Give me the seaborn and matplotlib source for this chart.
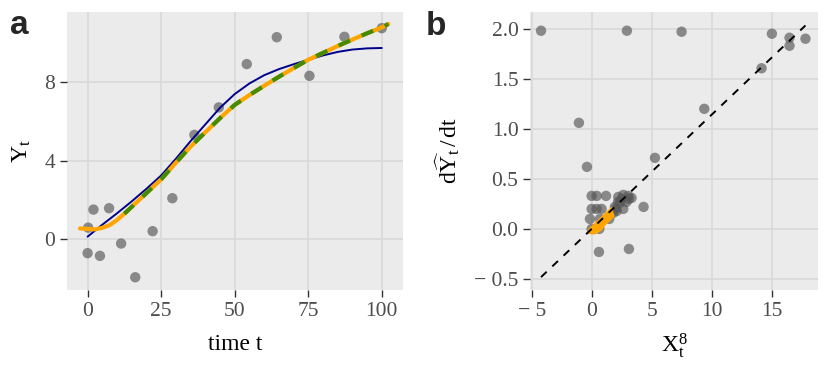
import matplotlib
matplotlib.use("Agg")
import matplotlib.pyplot as plt
import numpy as np
import pandas as pd
import seaborn as sns

# ---------------- Panel a data ----------------
obs_t = [0, 0.2, 2.0, 4.2, 7.3, 11.4, 16.2, 22.1, 28.8, 36.3, 44.6, 54.1, 64.3, 75.4, 87.3, 100.0]
obs_y = [-0.71, 0.59, 1.51, -0.85, 1.58, -0.22, -1.94, 0.41, 2.09, 5.32, 6.72, 8.93, 10.3, 8.33, 10.32, 10.76]

blue_t = [0, 5, 10, 15, 20, 25, 30, 35, 40, 45, 50, 55, 60, 65, 70, 75, 80, 85, 90, 95, 100]
blue_y = [0.13, 0.74, 1.32, 1.93, 2.57, 3.25, 4.10, 5.00, 5.85, 6.70, 7.40, 7.94, 8.36, 8.67, 8.92, 9.15, 9.37, 9.55, 9.67, 9.73, 9.75]

orange_t = [-2.6, 0, 2.5, 5, 7.5, 10, 12.5, 15, 20, 25, 30, 35, 40, 45, 50, 55, 60, 65, 70, 75, 80, 85, 90, 95, 100, 102.2]
orange_y = [0.55, 0.52, 0.50, 0.58, 0.72, 0.98, 1.30, 1.65, 2.35, 3.05, 3.90, 4.72, 5.45, 6.17, 6.85, 7.35, 7.82, 8.28, 8.72, 9.15, 9.50, 9.85, 10.18, 10.50, 10.80, 10.97]
green_start = 12.5

a_xticks = [0, 25, 50, 75, 100]
a_yticks = [0, 4, 8]

# ---------------- Panel b data ----------------
b_x = [-4.22, 2.94, 7.50, 15.03, 16.50, 16.50, 17.83, 14.17, 9.39, -1.06, -0.39, 5.28, 4.33, 0.61, 3.11,
       0.00, 0.42, 1.20, 0.00, 0.42, 0.83, -0.14, 0.69, 1.47, 0.00, 0.64, 2.22, 2.64, 3.05, 3.33,
       2.36, 1.94, 2.64, 1.80, 2.10, 2.50, 2.90, 3.10, 2.20, 2.00]
b_y = [1.98, 1.98, 1.97, 1.95, 1.91, 1.83, 1.90, 1.605, 1.20, 1.06, 0.62, 0.71, 0.22, -0.23, -0.20,
       0.33, 0.33, 0.33, 0.20, 0.20, 0.20, 0.10, 0.10, 0.10, 0.00, 0.00, 0.32, 0.34, 0.33, 0.31,
       0.26, 0.22, 0.20, 0.16, 0.18, 0.30, 0.27, 0.30, 0.27, 0.20]
fit_slope = 0.114

wedge_x = [-0.42, -0.14, 1.67, 1.86, 1.11, 0.83, 0.28]
wedge_y = [-0.043, 0.007, 0.216, 0.123, 0.04, -0.01, -0.05]

b_xticks = [-5, 0, 5, 10, 15]
b_xticklabels = ["\u2212 5", "0", "5", "10", "15"]
b_yticks = [-0.5, 0.0, 0.5, 1.0, 1.5, 2.0]
b_yticklabels = ["\u2212 0.5", "0.0", "0.5", "1.0", "1.5", "2.0"]

# ---------------- Style ----------------
sns.set_style("darkgrid", {"axes.facecolor": "#ebebeb", "grid.color": "#dbdbdb"})
plt.rcParams["font.family"] = ["Liberation Serif", "DejaVu Serif"]
plt.rcParams["mathtext.fontset"] = "custom"
plt.rcParams["mathtext.rm"] = "Liberation Serif"
plt.rcParams["mathtext.it"] = "Liberation Serif:italic"
plt.rcParams["mathtext.bf"] = "Liberation Serif:bold"

W, H = 830, 374
fig = plt.figure(figsize=(W / 100, H / 100), dpi=100)
fig.patch.set_facecolor("white")

def frac_axes(l, t, r, b):
    return fig.add_axes([l / W, 1 - b / H, (r - l) / W, (b - t) / H])

axa = frac_axes(66.7, 11.7, 402.7, 290)
axb = frac_axes(530, 11.7, 818.3, 290)

point_kw = dict(color="#555555", alpha=0.65, s=56, edgecolor="none", linewidth=0, zorder=3)

def style(ax):
    ax.set_facecolor("#ebebeb")
    ax.grid(True, color="#dbdbdb", linewidth=1.4)
    ax.set_axisbelow(True)
    for s in ax.spines.values():
        s.set_visible(False)
    ax.tick_params(axis="both", which="major", length=4.8, width=1.0, color="#333333",
                   labelcolor="#4d4d4d", labelsize=15.5, pad=3.5, bottom=True, left=True)

# ---------------- Panel a ----------------
df_obs = pd.DataFrame({"t": obs_t, "y": obs_y})
df_blue = pd.DataFrame({"t": blue_t, "y": blue_y})
df_or = pd.DataFrame({"t": orange_t, "y": orange_y})
df_gr = df_or[df_or["t"] >= green_start]

sns.scatterplot(data=df_obs, x="t", y="y", ax=axa, **point_kw)
sns.lineplot(data=df_blue, x="t", y="y", ax=axa, color="#00008B", linewidth=1.4, sort=False, zorder=4)
sns.lineplot(data=df_or, x="t", y="y", ax=axa, color="#FFA500", linewidth=3.0, sort=False, zorder=5,
             solid_capstyle="round")
sns.lineplot(data=df_gr, x="t", y="y", ax=axa, color="#458B00", linewidth=3.0, sort=False, zorder=6)
axa.lines[-1].set_dashes((3.0, 3.0))
axa.lines[-1].set_dash_capstyle("butt")

axa.set_xlim(-7.1, 107.1)
axa.set_ylim(-2.59, 11.6)
axa.set_xticks(a_xticks)
axa.set_yticks(a_yticks)
style(axa)
axa.set_xlabel("time t", fontsize=17, color="black", va="center")
axa.set_ylabel(r"$\mathregular{Y_t}$", fontsize=17, color="black", va="center")
axa.xaxis.set_label_coords(0.5, -0.195)
axa.yaxis.set_label_coords(-0.132, 0.5)

# ---------------- Panel b ----------------
df_b = pd.DataFrame({"x": b_x, "y": b_y})
sns.scatterplot(data=df_b, x="x", y="y", ax=axb, **point_kw)
axb.fill(wedge_x, wedge_y, color="#FFA500", zorder=10, linewidth=0.8, edgecolor="#FFA500")
fit_x = np.array([min(b_x), max(b_x)])
df_fit = pd.DataFrame({"x": fit_x, "y": fit_slope * fit_x})
sns.lineplot(data=df_fit, x="x", y="y", ax=axb, color="black", linewidth=1.4, zorder=11)
axb.lines[-1].set_dashes((4, 4))

axb.set_xlim(-5.14, 18.9)
axb.set_ylim(-0.61, 2.17)
axb.set_xticks(b_xticks)
axb.set_xticklabels(b_xticklabels)
axb.set_yticks(b_yticks)
axb.set_yticklabels(b_yticklabels)
style(axb)
axb.set_xlabel(r"$\mathregular{X_t^8}$", fontsize=17, color="black", va="center")
axb.set_ylabel(r"$\mathregular{d\widehat{Y}_t\,/\,dt}$", fontsize=17, color="black", va="center")
axb.xaxis.set_label_coords(0.5, -0.2)
axb.yaxis.set_label_coords(-0.284, 0.5)

# ---------------- Panel letters ----------------
fig.text(10 / W, 1 - 34 / H, "a", fontsize=24, fontweight="bold", family="Liberation Sans",
         ha="left", va="baseline")
fig.text(426 / W, 1 - 35 / H, "b", fontsize=24, fontweight="bold", family="Liberation Sans",
         ha="left", va="baseline")

fig.savefig("out.png", dpi=100, facecolor="white")
